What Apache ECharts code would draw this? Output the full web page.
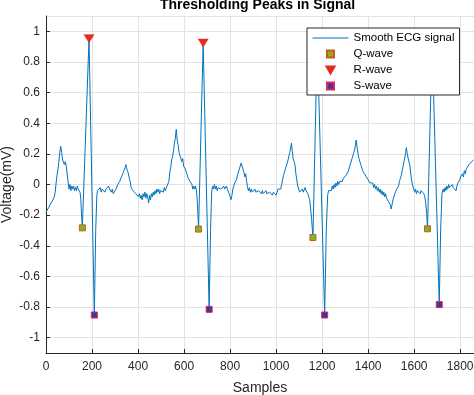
<!DOCTYPE html>
<html><head><meta charset="utf-8">
<script src="https://cdn.jsdelivr.net/npm/echarts@6/dist/echarts.min.js"></script>
<style>html,body{margin:0;padding:0;background:#fff}#c{width:474px;height:395px}</style>
</head><body><div id="c"></div><script>
// ECG trace: [sample index, voltage (mV)]
const ecgTrace = [
[0,-0.18],[6,-0.17],[12,-0.15],[18,-0.13],[24,-0.14],[30,-0.10],[36,-0.08],[40,-0.05],[44,0.01],[48,0.06],[52,0.10],[56,0.15],[60,0.21],[64,0.25],[68,0.21],[72,0.16],[76,0.17],[80,0.13],[84,0.15],[88,0.12],[92,0.07],[96,0.02],[100,-0.03],[104,0.0],[108,-0.04],[112,-0.01],[116,-0.03],[120,-0.01],[124,-0.04],[128,-0.02],[132,-0.04],[136,-0.01],[140,-0.03],[144,-0.02],[148,-0.05],[151,-0.09],[154,-0.18],[158,-0.283],[187,0.952],[210,-0.852],[216,-0.30],[221,-0.07],
[224,-0.04],[228,-0.03],[232,-0.05],[236,-0.02],[240,-0.05],[244,-0.03],[248,-0.04],[252,-0.02],[256,-0.05],[260,-0.03],[264,-0.02],[268,-0.04],[272,-0.01],[276,-0.03],[280,-0.02],[284,-0.05],[288,-0.03],[292,-0.06],[296,-0.05],[300,-0.07],[304,-0.03],[308,-0.02],[312,0.0],[316,-0.01],[320,0.02],[324,0.03],[328,0.05],[332,0.06],[336,0.08],[340,0.09],[344,0.11],[347,0.13],[350,0.11],[354,0.09],[358,0.07],[362,0.04],[366,0.02],[370,-0.02],[374,-0.03],[378,-0.04],[382,-0.05],[386,-0.04],[390,-0.06],[394,-0.07],[398,-0.05],[402,-0.08],[406,-0.06],[410,-0.09],[414,-0.07],[418,-0.10],[422,-0.06],[426,-0.08],[430,-0.05],[434,-0.09],[438,-0.06],[442,-0.08],[446,-0.12],[450,-0.07],[454,-0.10],[458,-0.06],[462,-0.08],[466,-0.05],[470,-0.07],[474,-0.04],[478,-0.06],[482,-0.03],[486,-0.05],[490,-0.03],[494,-0.06],[498,-0.04],[502,-0.05],[506,-0.03],[510,-0.05],[514,-0.02],[518,-0.04],[522,-0.03],[526,-0.01],[530,-0.02],[534,0.02],[538,0.08],[542,0.11],[546,0.16],[550,0.18],[554,0.22],[558,0.27],[562,0.30],[566,0.36],[570,0.29],[574,0.26],[578,0.21],[582,0.20],[586,0.17],[590,0.15],[594,0.17],[598,0.12],[602,0.13],[606,0.10],[610,0.08],[614,0.07],[618,0.04],[622,0.05],[626,0.02],[630,0.03],[634,0.0],[638,-0.03],[642,-0.01],[646,-0.03],[650,-0.01],[654,-0.04],[658,-0.12],[663,-0.291],[683,0.924],[709,-0.815],[715,-0.30],[720,-0.05],
[724,-0.01],[728,-0.03],[732,0.0],[736,-0.03],[740,-0.01],[744,-0.04],[748,-0.02],[752,-0.03],[756,-0.01],[760,-0.03],[764,-0.02],[768,-0.04],[772,-0.01],[776,-0.03],[780,-0.02],[784,-0.01],[788,-0.03],[792,-0.02],[796,-0.06],[800,-0.08],[804,-0.10],[808,-0.07],[812,-0.03],[816,-0.01],[820,0.01],[824,0.02],[828,0.03],[832,0.06],[836,0.07],[840,0.10],[844,0.11],[848,0.14],[852,0.12],[856,0.10],[860,0.08],[864,0.05],[868,0.07],[872,0.02],[876,-0.02],[880,-0.04],[884,-0.02],[888,-0.05],[892,-0.03],[896,-0.05],[900,-0.04],[904,-0.06],[908,-0.03],[912,-0.05],[916,-0.04],[920,-0.06],[924,-0.04],[928,-0.05],[932,-0.03],[936,-0.06],[940,-0.04],[944,-0.06],[948,-0.05],[952,-0.07],[956,-0.04],[960,-0.06],[964,-0.05],[968,-0.07],[972,-0.05],[976,-0.06],[980,-0.04],[984,-0.07],[988,-0.05],[992,-0.06],[996,-0.04],[1000,-0.07],[1004,-0.05],[1008,-0.03],[1012,-0.04],[1016,-0.02],[1020,-0.03],[1024,0.0],[1028,0.03],[1032,0.06],[1036,0.08],[1040,0.10],[1044,0.12],[1048,0.14],[1052,0.16],[1056,0.19],[1060,0.21],[1064,0.25],[1067,0.27],[1070,0.22],[1074,0.17],[1078,0.15],[1082,0.13],[1086,0.07],[1090,0.03],[1094,-0.01],[1098,-0.03],[1102,-0.05],[1106,-0.04],[1110,-0.06],[1114,-0.03],[1118,-0.05],[1122,-0.04],[1126,-0.02],[1130,-0.04],[1134,-0.03],[1138,-0.06],[1142,-0.08],[1146,-0.10],[1150,-0.16],[1154,-0.22],[1160,-0.346],[1179,0.95],[1211,-0.852],[1218,-0.30],[1224,-0.07],
[1228,-0.04],[1232,-0.05],[1236,-0.03],[1240,-0.04],[1244,-0.01],[1248,-0.03],[1252,0.0],[1256,-0.02],[1260,0.01],[1264,-0.01],[1268,0.02],[1272,0.0],[1276,0.02],[1280,0.01],[1284,0.03],[1288,0.02],[1292,0.04],[1296,0.03],[1300,0.05],[1304,0.06],[1308,0.05],[1312,0.08],[1316,0.10],[1320,0.12],[1324,0.14],[1328,0.16],[1332,0.18],[1336,0.20],[1340,0.22],[1344,0.25],[1348,0.29],[1352,0.24],[1356,0.20],[1360,0.17],[1364,0.16],[1368,0.13],[1372,0.12],[1376,0.09],[1380,0.10],[1384,0.07],[1388,0.08],[1392,0.05],[1396,0.06],[1400,0.03],[1404,0.04],[1408,0.01],[1412,0.02],[1416,0.0],[1420,0.01],[1424,-0.02],[1428,0.0],[1432,-0.03],[1436,-0.01],[1440,-0.04],[1444,-0.02],[1448,-0.05],[1452,-0.03],[1456,-0.06],[1460,-0.04],[1464,-0.07],[1468,-0.05],[1472,-0.08],[1476,-0.06],[1480,-0.09],[1484,-0.08],[1488,-0.11],[1492,-0.10],[1496,-0.13],[1500,-0.16],[1504,-0.13],[1508,-0.10],[1512,-0.09],[1516,-0.06],[1520,-0.05],[1524,-0.03],[1528,-0.04],[1532,-0.01],[1536,0.02],[1540,0.04],[1544,0.06],[1548,0.09],[1552,0.12],[1556,0.15],[1560,0.18],[1563,0.21],[1566,0.24],[1570,0.20],[1574,0.17],[1578,0.16],[1582,0.12],[1586,0.06],[1590,0.02],[1594,-0.01],[1598,-0.03],[1602,-0.05],[1606,-0.03],[1610,-0.06],[1614,-0.04],[1618,-0.05],[1622,-0.03],[1626,-0.06],[1630,-0.04],[1634,-0.05],[1638,-0.03],[1642,-0.06],[1646,-0.08],[1650,-0.12],[1654,-0.18],[1658,-0.289],[1678,0.95],[1709,-0.784],[1715,-0.30],[1721,-0.06],
[1726,-0.03],[1730,-0.05],[1734,-0.02],[1738,-0.04],[1742,-0.01],[1746,-0.03],[1750,0.0],[1754,-0.02],[1758,-0.01],[1762,-0.03],[1766,0.0],[1770,-0.02],[1774,-0.03],[1778,-0.01],[1782,-0.04],[1786,-0.01],[1790,0.01],[1794,0.0],[1798,0.03],[1802,0.05],[1806,0.04],[1810,0.07],[1814,0.05],[1818,0.09],[1822,0.07],[1826,0.10],[1830,0.11],[1834,0.10],[1838,0.13],[1842,0.12],[1846,0.14],[1850,0.15],[1854,0.14],[1858,0.16]
];
const qIdx = [158, 663, 1160, 1658];
const qVals = [-0.283, -0.291, -0.346, -0.289];
const rIdx = [187, 683, 1179, 1678];
const rVals = [0.952, 0.924, 0.95, 0.95];
const sIdx = [210, 709, 1211, 1709];
const sVals = [-0.852, -0.815, -0.852, -0.784];
const seriesNames = ['Smooth ECG signal', 'Q-wave', 'R-wave', 'S-wave'];
const titleText = 'Thresholding Peaks in Signal';
const xName = 'Samples';
const yName = 'Voltage(mV)';

const FONT = "'Liberation Sans', Arial, Helvetica, sans-serif";
const AX = '#262626';
const GRID = '#e2e2e2';
const zip = (xs, ys) => xs.map((x, i) => [x, ys[i]]);
const triDown = 'path://M0,0 L10,0 L5,8.66 Z';
const square = 'path://M0,0 L10,0 L10,10 L0,10 Z';
const plain = v => String(v);

const chart = echarts.init(document.getElementById('c'), null, {renderer: 'canvas'});
chart.setOption({
  animation: false,
  backgroundColor: '#fff',
  title: {
    text: titleText, left: 160, top: -2, padding: 0,
    textStyle: {fontFamily: FONT, fontSize: 14, fontWeight: 'bold', color: '#000'}
  },
  grid: {left: 46, top: 16, right: 0, bottom: 42, containLabel: false, outerBoundsMode: 'none'},
  xAxis: {
    type: 'value', min: 0, max: 1860, interval: 200,
    name: xName, nameLocation: 'middle', nameGap: 28, nameMoveOverlap: false,
    nameTextStyle: {fontFamily: FONT, fontSize: 14, color: AX},
    axisLine: {onZero: false, lineStyle: {color: AX, width: 1}},
    axisTick: {inside: true, length: 4, lineStyle: {color: AX}},
    axisLabel: {margin: 8, fontSize: 12, color: AX, fontFamily: FONT, showMaxLabel: false, formatter: plain},
    splitLine: {show: true, lineStyle: {color: GRID, width: 1}}
  },
  yAxis: {
    type: 'value', min: -1.1, max: 1.1, splitNumber: 11,
    name: yName, nameLocation: 'middle', nameGap: 32, nameMoveOverlap: false,
    nameTextStyle: {fontFamily: FONT, fontSize: 14, color: AX},
    axisLine: {show: true, onZero: false, lineStyle: {color: AX, width: 1}},
    axisTick: {show: true, inside: true, length: 4, lineStyle: {color: AX}},
    axisLabel: {margin: 6, fontSize: 12, color: AX, fontFamily: FONT, showMinLabel: false, showMaxLabel: false, formatter: plain},
    splitLine: {show: true, lineStyle: {color: GRID, width: 1}}
  },
  legend: {
    orient: 'vertical', left: 307, top: 28,
    itemWidth: 36, itemHeight: 7, itemGap: 4,
    padding: [4, 5, 3, 5],
    borderColor: AX, borderWidth: 1, borderRadius: 0, backgroundColor: '#fff',
    selectedMode: false,
    textStyle: {fontSize: 11.5, color: '#000', fontFamily: FONT},
    data: [
      {name: seriesNames[0], itemStyle: {opacity: 0}, lineStyle: {width: 1}},
      seriesNames[1], seriesNames[2], seriesNames[3]
    ]
  },
  series: [
    {
      name: seriesNames[0], type: 'line', data: ecgTrace, symbol: 'circle', showSymbol: false,
      lineStyle: {color: '#0072BD', width: 1}, itemStyle: {color: '#0072BD'}, z: 2
    },
    {
      name: seriesNames[1], type: 'scatter', data: zip(qIdx, qVals), symbol: square, symbolSize: 6,
      itemStyle: {color: '#77B82E', borderColor: '#D9541A', borderWidth: 1, opacity: 1}, z: 3
    },
    {
      name: seriesNames[2], type: 'scatter', data: zip(rIdx, rVals), symbol: triDown, symbolSize: [10, 8],
      itemStyle: {color: '#E52A1E', borderColor: '#E52A1E', borderWidth: 0.5, opacity: 1}, z: 3
    },
    {
      name: seriesNames[3], type: 'scatter', data: zip(sIdx, sVals), symbol: square, symbolSize: 6,
      itemStyle: {color: '#3A3A9E', borderColor: '#E0245E', borderWidth: 1, opacity: 1}, z: 3
    }
  ]
});
</script></body></html>
